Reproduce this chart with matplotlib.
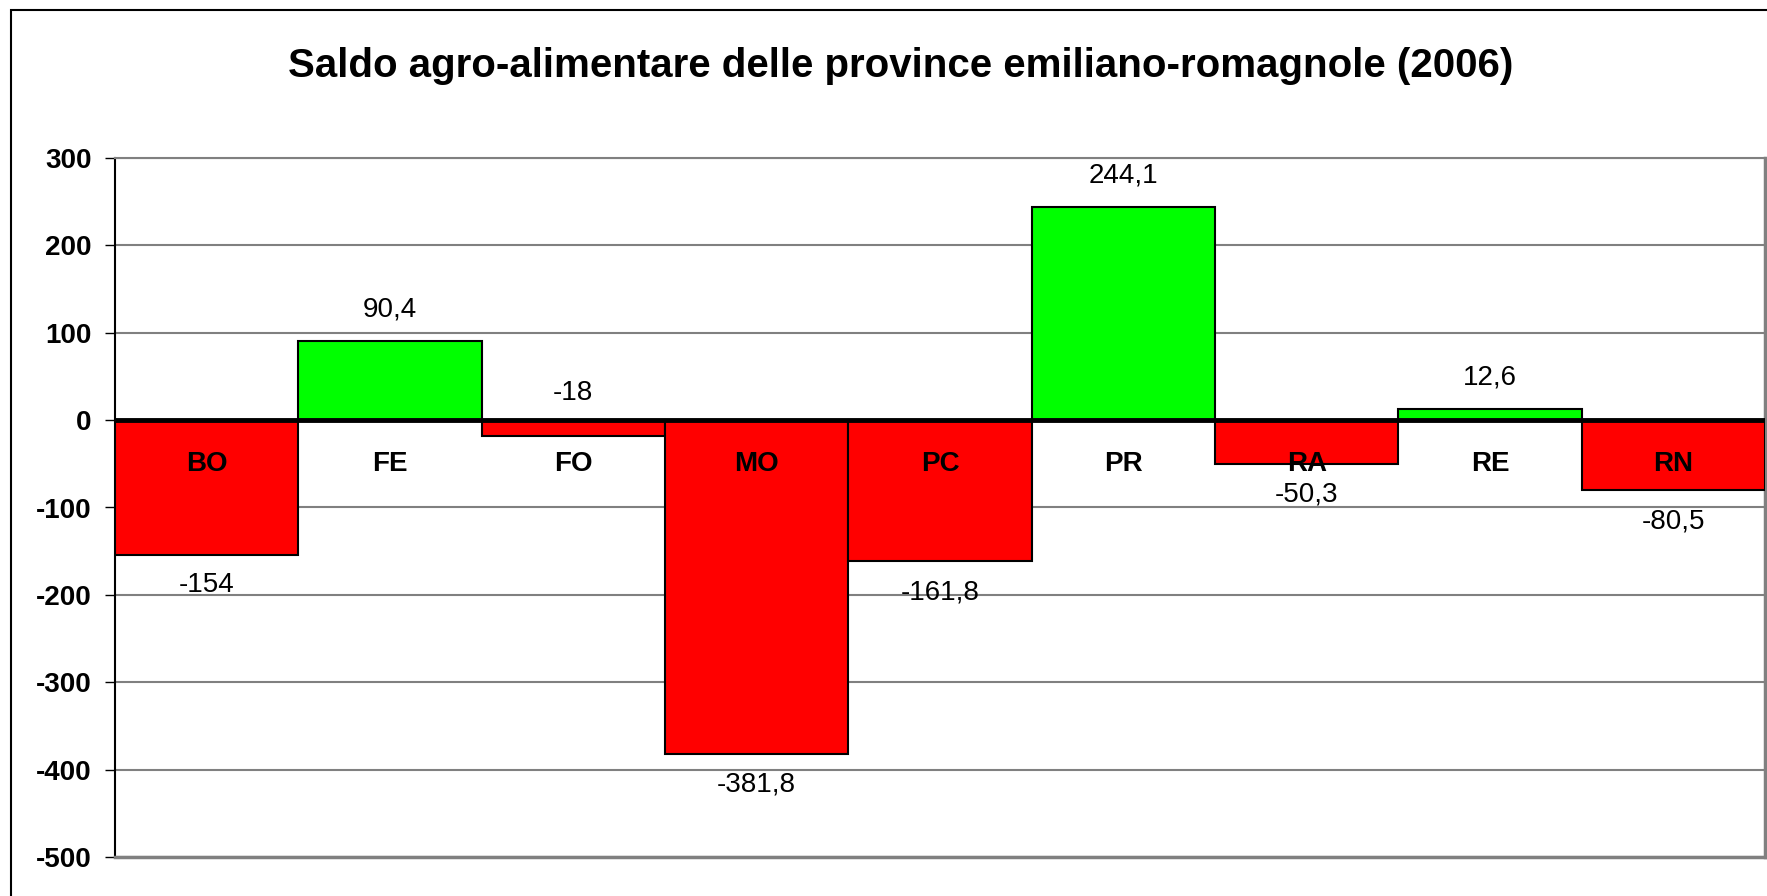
import numpy as np
import matplotlib.pyplot as plt
from matplotlib.patches import Rectangle

province = ['BO', 'FE', 'FO', 'MO', 'PC', 'PR', 'RA', 'RE', 'RN']
saldo = [-154, 90.4, -18, -381.8, -161.8, 244.1, -50.3, 12.6, -80.5]
etichette = ['-154', '90,4', '-18', '-381,8', '-161,8', '244,1', '-50,3', '12,6', '-80,5']
# FO label sits above the zero line in the original
sopra = [False, True, True, False, False, True, False, True, False]

plt.rcParams['font.family'] = ['Liberation Sans', 'DejaVu Sans']
plt.rcParams['axes.unicode_minus'] = False

fig = plt.figure(figsize=(17.67, 8.96), dpi=100)
ax = fig.add_axes([115 / 1767, 1 - 857 / 896, 1650 / 1767, (857 - 158) / 896])

x = np.arange(len(province))
colori = ['#00FF00' if v > 0 else '#FF0000' for v in saldo]
ax.bar(x, saldo, width=1.0, color=colori, edgecolor='black', linewidth=1.5, zorder=3)

ax.set_ylim(-500, 300)
ax.set_xlim(-0.5, len(province) - 0.5)
ax.set_yticks(np.arange(-500, 301, 100))
ax.yaxis.grid(True, color='#808080', linewidth=1.5, zorder=0)
ax.axhline(0, color='black', linewidth=3.5, zorder=4)
ax.set_xticks([])
ax.tick_params(axis='y', length=7, width=1, pad=10, labelsize=20)
for t in ax.get_yticklabels():
    t.set_fontweight('bold')

ax.spines['left'].set_color('black')
ax.spines['left'].set_linewidth(1.5)
for s in ['right', 'bottom', 'top']:
    ax.spines[s].set_color('#808080')
    ax.spines[s].set_linewidth(2.5)
ax.spines['top'].set_linewidth(1.5)

for i, v in enumerate(saldo):
    ax.text(x[i], -50, province[i], ha='center', va='center',
            fontsize=20, fontweight='bold', zorder=5)
    if sopra[i]:
        y = v + 36 if v > 0 else 31
    else:
        y = v - 35
    ax.text(x[i], y, etichette[i], ha='center', va='center', fontsize=20, zorder=5)

fig.text(0.51, 0.926, 'Saldo agro-alimentare delle province emiliano-romagnole (2006)',
         ha='center', va='center', fontsize=29, fontweight='bold')

fig.patches.append(Rectangle((11 / 1767, -0.1), 2, 1.1 - 10 / 896,
                             transform=fig.transFigure, fill=False,
                             edgecolor='black', linewidth=1.5))

fig.savefig('out.png', dpi=100)
